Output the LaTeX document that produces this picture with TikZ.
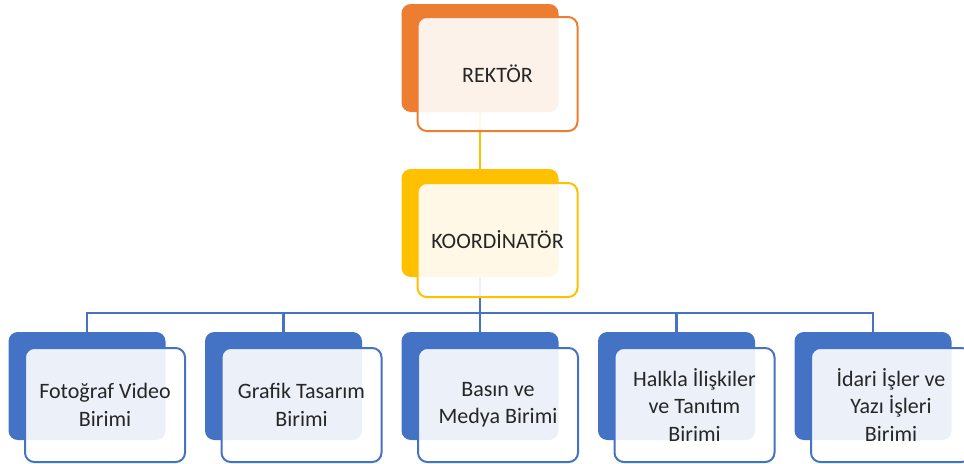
\documentclass[tikz,border=0pt]{standalone}
\usepackage{fontspec}
\setmainfont{Carlito}
\usepackage{tikz}
\usetikzlibrary{positioning,backgrounds}
\definecolor{orangeacc}{HTML}{ED7D31}
\definecolor{goldacc}{HTML}{FFC000}
\definecolor{blueacc}{HTML}{4472C4}
\definecolor{textgray}{HTML}{262626}
\tikzset{
    backbox/.style={fill=#1, rounded corners=7pt, inner sep=0pt,
        minimum width=117.75pt, minimum height=81pt},
    frontbox/.style={draw=#1, line width=1.5pt, fill=white, fill opacity=0.9,
        text opacity=1, text=textgray, rounded corners=7pt, inner sep=0pt,
        minimum width=120pt, minimum height=85.5pt, align=center,
        font=\fontsize{16.5}{20.5}\selectfont},
    link/.style={draw=#1, line width=1.8pt}
}

\begin{document}
\begin{tikzpicture}[x=0.75pt, y=-0.75pt]
    \path[use as bounding box] (0, 0) rectangle (964, 464);
    % top levels
    \node[backbox=orangeacc] (rektorback) at (480, 58) {};
    \node[frontbox=orangeacc] (rektor) at ([shift={(17.5, 16)}]rektorback.center) {REKTÖR};
    \node[backbox=goldacc] (koordback) at (480, 223) {};
    \node[frontbox=goldacc] (koord) at ([shift={(17.5, 17)}]koordback.center) {KOORDİNATÖR};
    \coordinate (bus) at (0, 313);
    % units
    \foreach \i/\x/\t in {1/87/{Fotoğraf Video\\Birimi},
                          2/283.5/{Grafik Tasarım\\Birimi},
                          3/480/{Basın ve\\Medya Birimi},
                          4/676.5/{Halkla İlişkiler\\ve Tanıtım\\Birimi},
                          5/873/{İdari İşler ve\\Yazı İşleri\\Birimi}} {
        \node[backbox=blueacc] (unitback\i) at (\x, 386) {};
        \node[frontbox=blueacc] (unit\i) at ([shift={(18, 19)}]unitback\i.center) {\t};
    }
    \begin{scope}[on background layer]
        \draw[link=goldacc] (rektorback.south) -- (koordback.north);
        \foreach \i in {1, ..., 5} {
            \draw[link=blueacc] (koordback.south) -- (koordback.south |- bus) -| (unitback\i.north);
        }
    \end{scope}
\end{tikzpicture}
\end{document}
